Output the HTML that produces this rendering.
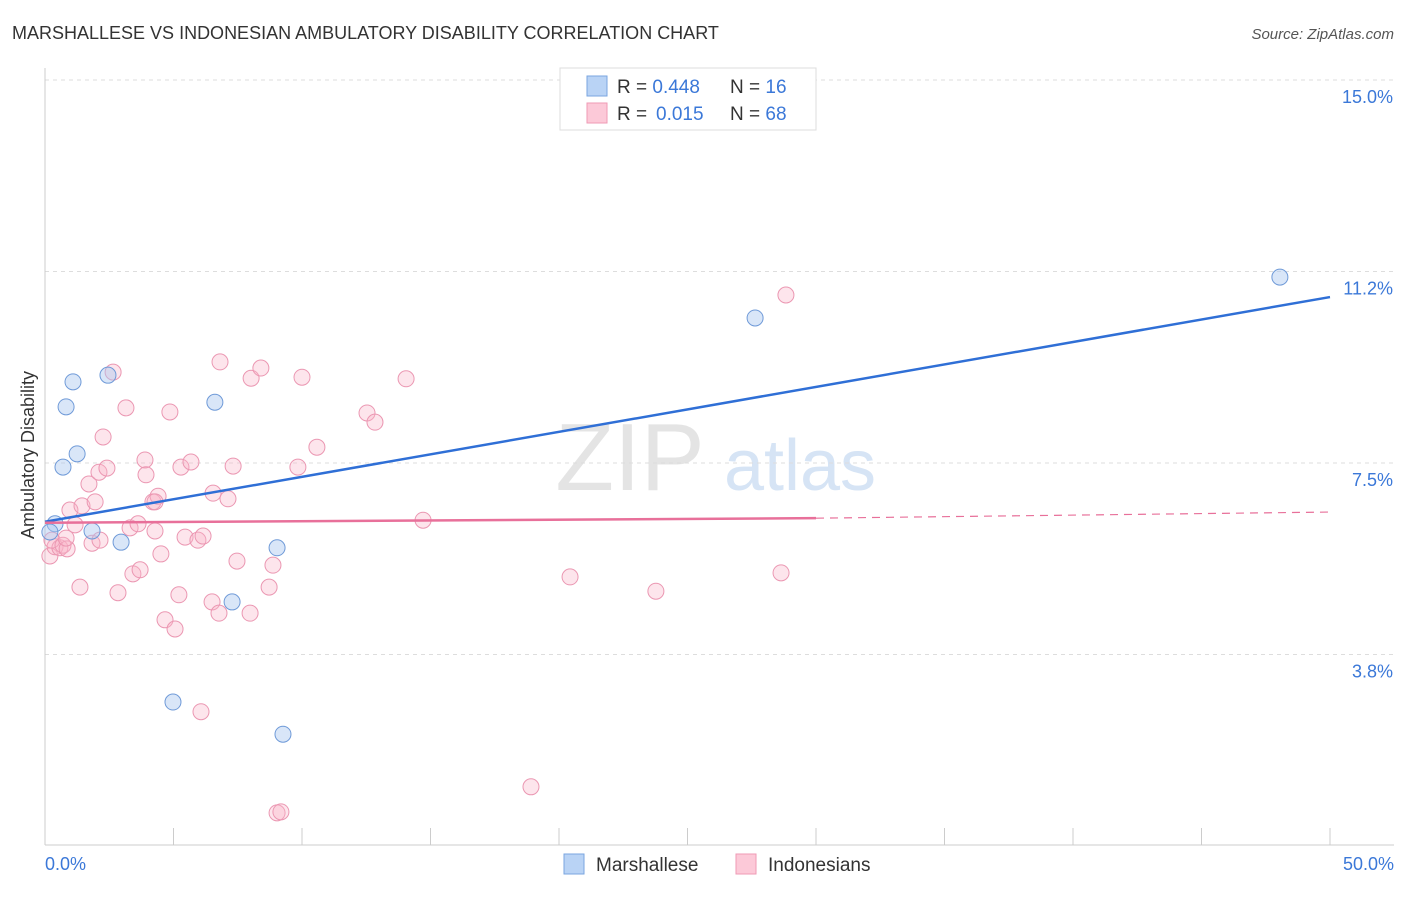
<!DOCTYPE html>
<html><head><meta charset="utf-8"><style>
body{margin:0;background:#fff;font-family:"Liberation Sans",sans-serif;}
svg text{font-family:"Liberation Sans",sans-serif;}
</style></head><body>
<svg id="c" width="1406" height="892" xmlns="http://www.w3.org/2000/svg">
<text x="12" y="39" font-size="18" fill="#333">MARSHALLESE VS INDONESIAN AMBULATORY DISABILITY CORRELATION CHART</text>
<text x="1394" y="39" font-size="15" fill="#555" text-anchor="end" font-style="italic">Source: ZipAtlas.com</text>
<text x="630" y="490" font-size="96" fill="#e4e4e4" font-family="Liberation Serif" text-anchor="middle">ZIP</text>
<text x="800" y="490" font-size="72" fill="#d6e4f5" text-anchor="middle">atlas</text>
<g id="grid"></g>
<g id="axes"></g>
<g id="marks"></g>
<text x="34" y="455" font-size="18" fill="#333" text-anchor="middle" transform="rotate(-90 34 455)">Ambulatory Disability</text>
<text x="45" y="870" font-size="18" fill="#3b78d8">0.0%</text>
<text x="1394" y="870" font-size="18" fill="#3b78d8" text-anchor="end">50.0%</text>
<g>
<rect x="560" y="68" width="256" height="62" fill="#fff" stroke="#ddd"/>
<rect x="587" y="76" width="20" height="20" fill="#b9d3f5" stroke="#7aa6e0"/>
<rect x="587" y="103" width="20" height="20" fill="#fcc9d8" stroke="#ef9ab5"/>
<text x="617" y="93" font-size="19" fill="#333">R = <tspan fill="#3b78d8">0.448</tspan><tspan x="730">N = </tspan><tspan fill="#3b78d8">16</tspan></text>
<text x="617" y="120" font-size="19" fill="#333">R = <tspan fill="#3b78d8" x="656">0.015</tspan><tspan x="730">N = </tspan><tspan fill="#3b78d8">68</tspan></text>
</g>
<g>
<rect x="564" y="854" width="20" height="20" fill="#b9d3f5" stroke="#7aa6e0"/>
<text x="596" y="871" font-size="19" fill="#333">Marshallese</text>
<rect x="736" y="854" width="20" height="20" fill="#fcc9d8" stroke="#ef9ab5"/>
<text x="768" y="871" font-size="19" fill="#333">Indonesians</text>
</g>
</svg>
<script>
const yTicks=[15.0,11.25,7.5,3.75];
const yTickLabels=["15.0%","11.2%","7.5%","3.8%"];
const blueX=[0.39,1.09,0.82,0.70,1.25,2.45,1.83,2.96,4.98,6.61,7.28,9.03,9.26,27.63,48.05,0.19];
const blueY=[6.31,9.09,8.60,7.42,7.68,9.22,6.17,5.95,2.82,8.69,4.78,5.84,2.19,10.34,11.14,6.15];
const pinkX=[0.19,0.39,0.58,0.27,0.70,0.86,0.97,1.17,1.36,1.44,1.71,1.83,1.95,2.10,2.26,2.41,2.65,2.84,3.15,3.31,3.42,3.62,3.70,3.89,3.93,4.20,4.28,4.40,4.51,4.67,4.86,5.06,5.21,5.29,5.45,5.68,5.95,6.07,6.15,6.50,6.54,6.77,7.12,7.32,7.47,6.81,7.98,8.02,8.40,8.72,8.87,9.03,9.18,9.84,10.0,10.58,12.53,12.84,14.05,14.71,18.91,20.43,23.77,28.64,28.83,0.82,2.14,4.28];
const pinkY=[5.68,5.86,5.84,5.99,5.89,5.82,6.58,6.29,5.07,6.66,7.09,5.93,6.74,7.32,8.01,7.40,9.28,4.96,8.58,6.23,5.33,6.31,5.41,7.56,7.27,6.74,6.17,6.85,5.72,4.43,8.50,4.25,4.92,7.42,6.05,7.52,5.99,2.63,6.07,4.78,6.91,4.56,6.80,7.44,5.58,9.48,4.56,9.16,9.36,5.07,5.50,0.65,0.67,7.42,9.18,7.81,8.48,8.30,9.15,6.38,1.16,5.27,4.99,5.35,10.79,6.03,5.99,6.74];
const blueTrend=[6.35,10.75];
const pinkTrend=[6.33,6.42,6.54];
const NS="http://www.w3.org/2000/svg";
const X=v=>45+v*25.7, Y=v=>80+(15-v)*51.07;
function mk(p,t,a){const e=document.createElementNS(NS,t);for(const k in a)e.setAttribute(k,a[k]);document.getElementById(p).appendChild(e);return e;}
yTicks.forEach((t,i)=>{
 const l=mk('grid','line',{x1:45,x2:1394,y1:Y(t),y2:Y(t),stroke:'#ddd','stroke-dasharray':'4,4'});
 
 
 const tx=mk('grid','text',{x:1393,y:Y(t)+23,'font-size':18,fill:'#3b78d8','text-anchor':'end'});
 tx.textContent=yTickLabels[i];
 
 
});
let a=mk('axes','line',{x1:45,x2:45,y1:68,y2:845,stroke:'#ccc'});


a=mk('axes','line',{x1:45,x2:1394,y1:845,y2:845,stroke:'#ccc'});


for(let i=0;i<=10;i++){const t=mk('axes','line',{x1:X(i*5),x2:X(i*5),y1:828,y2:845,stroke:'#ccc'});
 
 }
pinkX.forEach((x,i)=>{const c=mk('marks','circle',{cx:X(x),cy:Y(pinkY[i]),r:8,fill:'rgba(248,180,200,0.35)',stroke:'#eb97b2','stroke-width':1});
 
 });
blueX.forEach((x,i)=>{const c=mk('marks','circle',{cx:X(x),cy:Y(blueY[i]),r:8,fill:'rgba(170,200,240,0.45)',stroke:'#6f9ad8','stroke-width':1});
 
 });
let l=mk('marks','line',{x1:X(0),y1:Y(blueTrend[0]),x2:X(50),y2:Y(blueTrend[1]),stroke:'#2f6fd6','stroke-width':2.5});


l=mk('marks','line',{x1:X(0),y1:Y(pinkTrend[0]),x2:X(30),y2:Y(pinkTrend[1]),stroke:'#e8709a','stroke-width':2.5});


l=mk('marks','line',{x1:X(30),y1:Y(pinkTrend[1]),x2:X(50),y2:Y(pinkTrend[2]),stroke:'#e8709a','stroke-width':1.2,'stroke-dasharray':'8,6'});


</script>
</body></html>
